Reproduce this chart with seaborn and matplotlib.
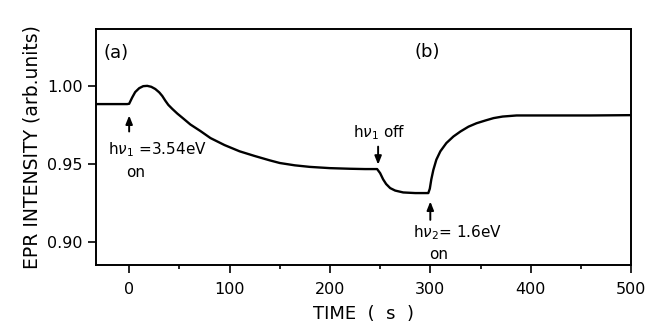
import matplotlib
matplotlib.use("Agg")
import matplotlib.pyplot as plt
import seaborn as sns
import pandas as pd

# Trace
time_s = [-33, -20, -10, -2, 0, 3, 6, 10, 14, 18, 22, 26, 30, 33, 36, 39, 43, 48, 54, 61,
          71, 81, 95, 110, 125, 140, 150, 165, 180, 200, 220, 235, 247,
          250, 253, 256, 260, 265, 273, 285, 298,
          299.5, 301, 303, 306, 310, 316, 323, 330, 338, 346, 355, 363, 372, 386,
          400, 430, 460, 500]
intensity = [0.9883, 0.9883, 0.9883, 0.9883, 0.9885, 0.9925, 0.9960, 0.9985, 0.9998, 1.0000, 0.9994, 0.9980, 0.9958, 0.9935, 0.9905, 0.9878, 0.9852, 0.9822, 0.9790, 0.9752,
             0.9710, 0.9665, 0.9620, 0.9580, 0.9550, 0.9522, 0.9505, 0.9490, 0.9480, 0.9472, 0.9468, 0.9466, 0.9466,
             0.9440, 0.9400, 0.9370, 0.9344, 0.9328, 0.9316, 0.9312, 0.9312,
             0.9340, 0.9400, 0.9460, 0.9526, 0.9580, 0.9633, 0.9675, 0.9707, 0.9738, 0.9760, 0.9778, 0.9793, 0.9803, 0.9810,
             0.9810, 0.9810, 0.9810, 0.9812]

x_ticks = [0, 100, 200, 300, 400, 500]
y_ticks = [0.90, 0.95, 1.00]
y_tick_labels = ["0.90", "0.95", "1.00"]

df = pd.DataFrame({"time": time_s, "intensity": intensity})

sns.set_style("ticks")
plt.rcParams["font.family"] = ["DejaVu Sans"]
plt.rcParams["mathtext.fontset"] = "dejavusans"
plt.rcParams["text.color"] = "black"
plt.rcParams["axes.labelcolor"] = "black"

fig = plt.figure(figsize=(6.65, 3.33), dpi=100)
ax = fig.add_axes([0.1444, 0.204, 0.8046, 0.709])

sns.lineplot(data=df, x="time", y="intensity", ax=ax, color="black",
             linewidth=1.7, sort=False, estimator=None)

ax.set_xlim(-33, 500)
ax.set_ylim(0.885, 1.0365)
ax.set_xticks(x_ticks)
ax.set_xticks(range(0, 501, 50), minor=True)
ax.set_yticks(y_ticks)
ax.set_yticklabels(y_tick_labels)
ax.tick_params(axis="both", which="major", direction="out", length=6, width=1.2,
               labelsize=11.5, color="black", labelcolor="black")
ax.tick_params(axis="x", which="minor", direction="out", length=3, width=1.2, color="black")
ax.tick_params(axis="x", pad=6)
for sp in ax.spines.values():
    sp.set_linewidth(1.4)
    sp.set_color("black")

ax.set_xlabel("TIME  (  s  )", fontsize=13, labelpad=6, color="black")
ax.set_ylabel("EPR INTENSITY (arb.units)", fontsize=13.5, labelpad=4, color="black")

ax.text(-13, 1.021, "(a)", fontsize=13, ha="center", va="center")
ax.text(297, 1.022, "(b)", fontsize=13, ha="center", va="center")

arrow = dict(arrowstyle="-|>,head_length=0.5,head_width=0.2", color="black", lw=1.4,
             shrinkA=0, shrinkB=0)
ax.annotate("", xy=(0, 0.981), xytext=(0, 0.9707), arrowprops=arrow)
ax.annotate("", xy=(248, 0.9494), xytext=(248, 0.961), arrowprops=arrow)
ax.annotate("", xy=(300, 0.9258), xytext=(300, 0.914), arrowprops=arrow)

ax.text(-21, 0.959, r"h$\nu_1$ =3.54eV", fontsize=11, ha="left", va="center")
ax.text(6, 0.9445, "on", fontsize=11, ha="center", va="center")
ax.text(223, 0.970, r"h$\nu_1$ off", fontsize=11, ha="left", va="center")
ax.text(283, 0.9058, r"h$\nu_2$= 1.6eV", fontsize=11, ha="left", va="center")
ax.text(308, 0.892, "on", fontsize=11, ha="center", va="center")

fig.savefig("out.png", dpi=100)
